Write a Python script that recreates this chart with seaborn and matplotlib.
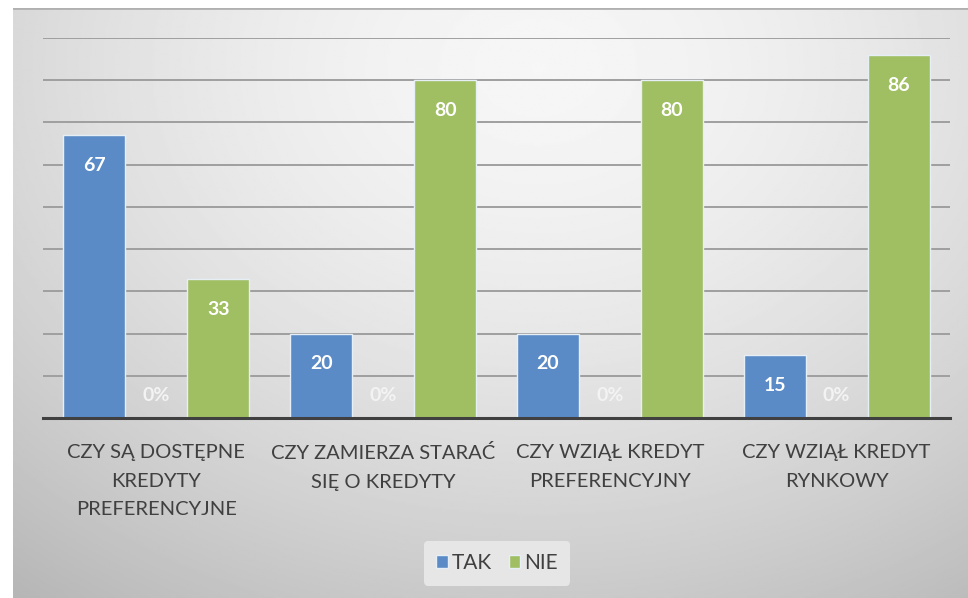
import matplotlib
matplotlib.use("Agg")
import matplotlib.pyplot as plt
from matplotlib.patches import Patch
import seaborn as sns
import numpy as np
import pandas as pd

# dane z wykresu
kategorie = ["CZY SĄ DOSTĘPNE\nKREDYTY\nPREFERENCYJNE",
             "CZY ZAMIERZA STARAĆ\nSIĘ O KREDYTY",
             "CZY WZIĄŁ KREDYT\nPREFERENCYJNY",
             "CZY WZIĄŁ KREDYT\nRYNKOWY"]
tak = [67, 20, 20, 15]
brak = [0, 0, 0, 0]
nie = [33, 80, 80, 86]
serie = ["TAK", "brak", "NIE"]

df = pd.DataFrame({
    "kat": kategorie * 3,
    "seria": ["TAK"] * 4 + ["brak"] * 4 + ["NIE"] * 4,
    "val": tak + brak + nie,
})

sns.set_style("white")
plt.rcParams["font.family"] = ["Lato", "DejaVu Sans"]

fig = plt.figure(figsize=(9.68, 5.98), dpi=100)

# tlo z gradientem
bg = fig.add_axes([13 / 968, 0, 955 / 968, 590 / 598], zorder=-5)
yy, xx = np.mgrid[0:1:300j, 0:1:500j]
r = np.sqrt(((xx - 0.55) / 0.75) ** 2 + ((yy - 0.1) / 0.95) ** 2)
img = 0.965 - 0.19 * np.clip(r, 0, 1.2) ** 1.6
bg.imshow(img, cmap="gray", vmin=0, vmax=1, aspect="auto", extent=[0, 1, 0, 1],
          origin="upper")
bg.axhline(1, color="#b0b0b0", lw=2)
bg.set_axis_off()

ax = fig.add_axes([43 / 968, 1 - 418 / 598, 907 / 968, 380 / 598])
ax.set_facecolor("none")

kolory = {"TAK": "#5B8BC6", "brak": "#A5A5A5", "NIE": "#A0BF62"}
sns.barplot(data=df, x="kat", y="val", hue="seria", hue_order=serie,
            palette=kolory, width=0.82, saturation=1, edgecolor="#e6eef6",
            linewidth=1, legend=False, ax=ax, zorder=3)

ax.set_ylim(0, 90)
ax.set_yticks(np.arange(10, 91, 10))
ax.yaxis.grid(True, color="#9f9f9f", lw=1.4, zorder=0)
ax.set_axisbelow(True)
ax.tick_params(axis="y", left=False, labelleft=False)
ax.tick_params(axis="x", bottom=False, pad=15)
for s in ["top", "right", "left"]:
    ax.spines[s].set_visible(False)
ax.spines["bottom"].set_color("#404040")
ax.spines["bottom"].set_linewidth(2.2)
ax.spines["bottom"].set_zorder(5)
ax.set_xlabel("")
ax.set_ylabel("")
ax.set_xticks(range(len(kategorie)))
ax.set_xticklabels(kategorie, fontsize=14.5, color="#404040", linespacing=1.85)

for c, s in zip(ax.containers, serie):
    if s == "brak":
        ax.bar_label(c, labels=["0%"] * len(c), padding=10, color="#f3f3f3",
                     fontsize=14, fontweight="bold")
    else:
        ax.bar_label(c, labels=[str(int(b.get_height())) for b in c],
                     padding=-28, color="white", fontsize=14, fontweight="bold")

uchwyty = [Patch(facecolor=kolory["TAK"], edgecolor="#e6eef6", label="TAK"),
           Patch(facecolor=kolory["NIE"], edgecolor="#e6eef6", label="NIE")]
leg = fig.legend(handles=uchwyty, loc="center", bbox_to_anchor=(497 / 968, 1 - 563 / 598),
                 ncol=2, frameon=True, fontsize=15, handlelength=0.55, handleheight=0.55,
                 handletextpad=0.2, columnspacing=0.8, borderpad=0.6)
leg.get_frame().set_facecolor("#e6e6e6")
leg.get_frame().set_edgecolor("none")
leg.get_frame().set_alpha(1)
for t in leg.get_texts():
    t.set_color("#404040")

fig.savefig("out.png", dpi=100)
